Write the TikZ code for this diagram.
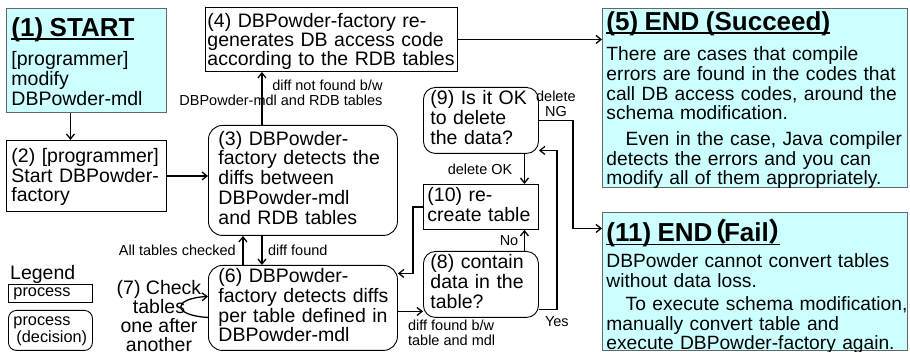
\documentclass[tikz,border=0pt]{standalone}
\usepackage{fontspec}
\setmainfont{Liberation Sans}
\newfontfamily\cjk{Noto Sans CJK JP}
\usetikzlibrary{arrows.meta}
\definecolor{endcyan}{HTML}{CCFFFF}
\newcommand{\boxfont}{\fontsize{19.5}{19}\selectfont}
\newcommand{\notefont}{\fontsize{19.2}{19}\selectfont}
\newcommand{\lblfont}{\fontsize{14.5}{15}\selectfont}
\newcommand{\legfont}{\fontsize{16.3}{17}\selectfont}
\newsavebox{\headbox}
\newcommand{\headline}[1]{{\fontsize{26}{26}\selectfont\bfseries
  \sbox{\headbox}{#1}\rlap{\rule[-3.5pt]{\wd\headbox}{1.6pt}}\usebox{\headbox}}}
% hard-broken lines, never rewrapped
\newcommand{\boxtext}[1]{\begin{tabular}{@{}l@{}}#1\end{tabular}}
\tikzset{
  >={Straight Barb[length=5pt,width=8pt]},
}
\tikzstyle{every node}=[font=\boxfont]
\tikzstyle{procbox}=[draw,line width=0.9pt,anchor=north west,align=left,inner xsep=5pt,inner ysep=0pt]
\tikzstyle{decibox}=[procbox,rounded corners=14pt,inner xsep=10pt]
\tikzstyle{endbox}=[procbox,fill=endcyan,draw=black!60,inner xsep=4pt]
\tikzstyle{lbl}=[font=\lblfont,inner sep=1.5pt]
\tikzstyle{flow}=[line width=1.3pt,->]

\begin{document}
\begin{tikzpicture}[x=1pt,y=1pt]
    \path[use as bounding box] (0,0) rectangle (910,-352);
    % boxes
    \node[endbox,inner xsep=5pt,text width=150pt,minimum height=104pt] (start) at (6,-8)
      {\boxtext{\headline{(1) START}\\[9pt][programmer]\\[1pt]modify\\DBPowder-mdl\\[-8pt]}};
    \node[procbox,text width=150pt,minimum height=71pt] (prog) at (6,-140)
      {\boxtext{(2) [programmer]\\Start DBPowder-\\factory\\[-4pt]}};
    \node[decibox,text width=169pt,minimum height=110pt] (detect) at (208,-125)
      {\boxtext{(3) DBPowder-\\factory detects the\\diffs between\\DBPowder-mdl\\and RDB tables}};
    \node[procbox,inner xsep=2pt,text width=248pt,minimum height=64pt] (regen) at (205,-7)
      {\boxtext{(4) DBPowder-factory re-\\[-1pt]generates DB access code\\[-1pt]according to the RDB tables\\[-6pt]}};
    \node[endbox,font=\notefont,text width=297pt,minimum height=179pt] (succeed) at (602,-8)
      {\boxtext{\headline{(5) END (Succeed)}\\[11pt]There are cases that compile\\errors are found in the codes that\\call DB access codes, around the\\schema modification.\\[6pt]\hspace*{1em}Even in the case, Java compiler\\detects the errors and you can\\modify all of them appropriately.\\[-6pt]}};
    \node[decibox,text width=169pt,minimum height=85pt] (pertable) at (208,-265)
      {\boxtext{(6) DBPowder-\\factory detects diffs\\per table defined in\\DBPowder-mdl}};
    \node[align=center,inner sep=0pt] (check) at (159,-316.5)
      {(7) Check\\tables\\one after\\another};
    \node[decibox,rounded corners=12pt,inner xsep=7pt,text width=101pt,minimum height=66pt] (contain) at (423,-251)
      {\boxtext{(8) contain\\data in the\\table?}};
    \node[decibox,rounded corners=12pt,inner xsep=7pt,text width=101pt,minimum height=66pt] (confirm) at (423,-87)
      {\boxtext{(9) Is it OK\\to delete\\the data?}};
    \node[procbox,inner xsep=4pt,text width=107pt,minimum height=45pt] (recreate) at (423,-184)
      {\boxtext{(10) re-\\create table}};
    \node[endbox,font=\notefont,text width=297pt,minimum height=138pt] (fail) at (602,-212)
      {\boxtext{\headline{(11) END\kern-11.5pt{\cjk （}\kern-3pt Fail{\cjk ）}\kern-15pt}\\[6pt]DBPowder cannot convert tables\\without data loss.\\[4pt]\hspace*{1em}To execute schema modification,\\manually convert table and\\execute DBPowder-factory again.\\[-12pt]}};
    % legend
    \node[anchor=base west,inner sep=0pt] (legend) at (10,-280) {Legend};
    \node[procbox,font=\legfont,text width=74pt,minimum height=18pt] (legproc) at (8,-284) {\boxtext{process}};
    \node[procbox,rounded corners=8pt,font=\legfont,text width=74pt,minimum height=40pt] (legdeci) at (8,-310)
      {\boxtext{process\\\hspace*{3pt}(decision)}};
    % connectors
    \draw[flow] ([xshift=-16pt]start.south) -- ([xshift=-16pt]prog.north);
    \draw[flow] (prog.east) -- (prog.east -| detect.west);
    \draw[flow] ([xshift=-41pt]detect.north) -- ([xshift=-41pt]detect.north |- regen.south)
      node[midway,lbl,align=right,xshift=19pt,yshift=6pt] {diff not found b/w\\DBPowder-mdl and RDB tables};
    \draw[flow] (regen.east) -- (regen.east -| succeed.west);
    \draw[flow] ([xshift=-41pt]detect.south) -- ([xshift=-41pt]pertable.north)
      node[midway,right,lbl,xshift=4pt] {diff found};
    \draw[flow] ([xshift=-60pt]pertable.north) -- ([xshift=-60pt]detect.south)
      node[midway,left,lbl,xshift=-5pt] {All tables checked};
    \draw[flow] ([yshift=-9.5pt]pertable.west) .. controls +(-36,2) and +(-36,-2) .. ([yshift=11.5pt]pertable.west);
    \draw[flow] ([yshift=-3.5pt]pertable.east) -- ([yshift=-3.5pt]pertable.east -| contain.west)
      node[midway,below right,lbl,align=left,xshift=-4.5pt,yshift=-6pt] {diff found b/w\\table and mdl};
    \draw[flow] ([xshift=43.5pt]contain.north) -- ([xshift=43.5pt]recreate.south)
      node[midway,left,lbl,xshift=-4pt] {No};
    \draw[flow] ([xshift=43.5pt]confirm.south) -- ([xshift=43.5pt]recreate.north)
      node[midway,left,lbl,xshift=-10pt] {delete OK};
    \draw[flow] ([yshift=-25pt]contain.east) -- ++(18,0) node[below,lbl,yshift=-5pt] {Yes} |- ([yshift=-30pt]confirm.east);
    \draw[flow] (confirm.east) -- ++(34,0) node[midway,above,lbl,align=center,yshift=2pt] {delete\\NG} |- ([yshift=53pt]fail.west);
    \draw[flow] (recreate.west) -- ++(-10,0) |- ([yshift=34.5pt]pertable.east);
\end{tikzpicture}
\end{document}
